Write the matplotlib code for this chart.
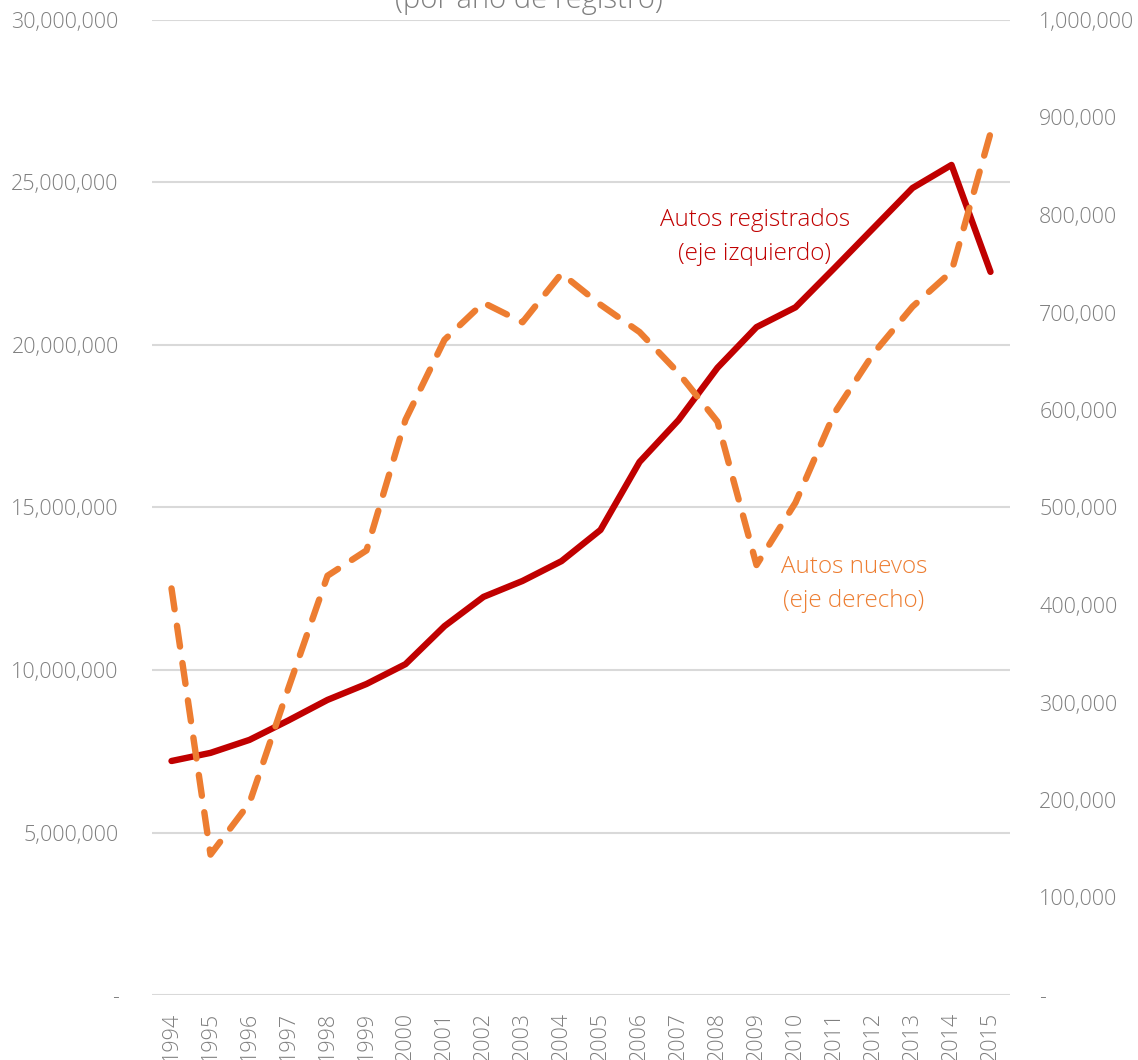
import matplotlib
matplotlib.use("Agg")
import matplotlib.pyplot as plt
from matplotlib.ticker import FuncFormatter

plt.rcParams['font.family'] = ['Open Sans', 'DejaVu Sans']

# data
years = [str(y) for y in range(1994, 2016)]
registrados = [7.20e6, 7.45e6, 7.85e6, 8.45e6, 9.08e6, 9.57e6, 10.18e6, 11.35e6,
               12.25e6, 12.74e6, 13.35e6, 14.31e6, 16.40e6, 17.69e6, 19.30e6,
               20.55e6, 21.16e6, 22.37e6, 23.60e6, 24.83e6, 25.54e6, 22.25e6]
nuevos = [417e3, 144e3, 197e3, 315e3, 430e3, 456e3, 590e3, 672e3, 710e3, 690e3,
          740e3, 708e3, 680e3, 638e3, 588e3, 441e3, 505e3, 597e3, 658e3, 706e3,
          742e3, 884e3]
left_ticks = [0, 5e6, 10e6, 15e6, 20e6, 25e6, 30e6]
right_ticks = [i * 100e3 for i in range(11)]

red = '#C00000'
orange = '#ED7D31'
gray = '#7F7F7F'


def fmt(v, pos):
    if v == 0:
        return '-'
    return f'{v:,.0f}'


fig = plt.figure(figsize=(11.38, 10.6), dpi=100)
ax = fig.add_axes([152 / 1138, 1 - 995 / 1060, 858 / 1138, 975 / 1060])
ax2 = ax.twinx()

x = list(range(len(years)))
ax.plot(x, registrados, color=red, lw=4.6, solid_capstyle='round', solid_joinstyle='round')
ax2.plot(x, nuevos, color=orange, lw=4.6, linestyle=(0, (3.3, 2.6)),
         dash_capstyle='round', dash_joinstyle='round')

ax.set_xlim(-0.5, len(years) - 0.5)
ax.set_ylim(0, 30e6)
ax2.set_ylim(0, 1e6)
ax.set_yticks(left_ticks)
ax2.set_yticks(right_ticks)
ax.yaxis.set_major_formatter(FuncFormatter(fmt))
ax2.yaxis.set_major_formatter(FuncFormatter(fmt))
ax.set_xticks(x)
ax.set_xticklabels(years, rotation=90, va='top')

ax.grid(axis='y', color='#D9D9D9', lw=1.5)
ax.set_axisbelow(True)
for a in (ax, ax2):
    for s in a.spines.values():
        s.set_visible(False)
for lab in ax.get_yticklabels() + ax2.get_yticklabels() + ax.get_xticklabels():
    lab.set_fontweight('light')
ax.tick_params(axis='y', length=0, pad=24, labelsize=15.5, labelcolor=gray)
ax2.tick_params(axis='y', length=0, pad=21, labelsize=15.5, labelcolor=gray)
ax.tick_params(axis='x', length=0, pad=12, labelsize=15.5, labelcolor=gray)

ax.text(755 / 1138, 1 - 237 / 1060, 'Autos registrados\n(eje izquierdo)',
        transform=fig.transFigure, ha='center', va='center', color=red,
        fontsize=17.5, linespacing=1.6, fontweight='light')
ax.text(854 / 1138, 1 - 584 / 1060, 'Autos nuevos\n(eje derecho)',
        transform=fig.transFigure, ha='center', va='center', color=orange,
        fontsize=17.5, linespacing=1.6, fontweight='light')

fig.text(529 / 1138, 1 - 8 / 1060, '(por año de registro)', ha='center',
         va='baseline', color=gray, fontsize=21, fontweight='light')

fig.savefig('out.png', dpi=100)
